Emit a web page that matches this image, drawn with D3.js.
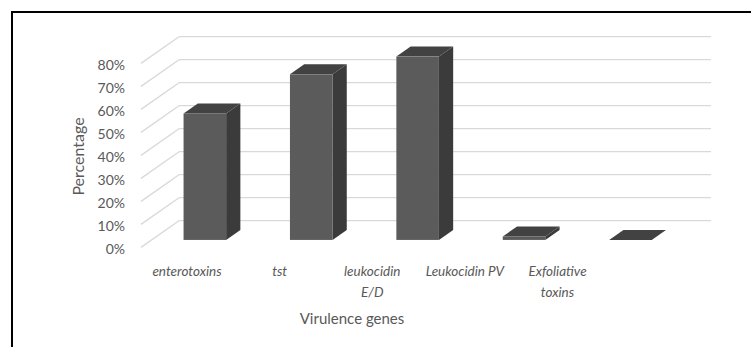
<!DOCTYPE html>
<html>
<head>
<meta charset="utf-8">
<script src="https://cdn.jsdelivr.net/npm/d3@7"></script>
<style>
  html, body { margin: 0; padding: 0; background: #fff; }
  svg { display: block; }
  text { font-family: Lato, "Open Sans", sans-serif; fill: #595959; }
</style>
</head>
<body>
<svg id="chart" width="751" height="347"></svg>
<script>
// Virulence gene prevalence
const categories = ["enterotoxins", "tst", "leukocidin E/D", "Leukocidin PV", "Exfoliative toxins"];
const labelLines = [["enterotoxins"], ["tst"], ["leukocidin", "E/D"], ["Leukocidin PV"], ["Exfoliative", "toxins"]];
const percentages = [55, 72, 79.7, 1.5, 0];
const tickValues = [0, 10, 20, 30, 40, 50, 60, 70, 80];
const tickLabels = ["0%", "10%", "20%", "30%", "40%", "50%", "60%", "70%", "80%"];

const svg = d3.select("#chart");
const W = 751, H = 347;

// frame
svg.append("rect")
  .attr("x", 12).attr("y", 12)
  .attr("width", W + 20).attr("height", H + 20)
  .attr("fill", "none").attr("stroke", "#000").attr("stroke-width", 2);

// 3D geometry: front plane and back wall offset
const x0 = 141;             // front-left corner of the plot
const plotW = 532;          // width along the category axis
const depthX = 38, depthY = -26.7;

const yBack = d3.scaleLinear().domain([0, 80]).range([220.7, 36.7]);
const yFront = v => yBack(v) - depthY;

const x = d3.scaleBand().domain(categories)
  .range([x0, x0 + plotW]).paddingInner(0.6).paddingOuter(0.3);

const grid = svg.append("g").attr("stroke", "#d9d9d9").attr("stroke-width", 1.3).attr("fill", "none");
// back wall gridlines
grid.selectAll("line.back").data(tickValues).join("line")
  .attr("class", "back")
  .attr("x1", x0 + depthX).attr("x2", x0 + depthX + plotW)
  .attr("y1", d => yBack(d)).attr("y2", d => yBack(d));
// side wall gridlines
grid.selectAll("line.side").data(tickValues).join("line")
  .attr("class", "side")
  .attr("x1", x0).attr("x2", x0 + depthX)
  .attr("y1", d => yFront(d)).attr("y2", d => yBack(d));

// value axis labels
svg.append("g").selectAll("text").data(tickValues).join("text")
  .attr("x", 125).attr("y", d => yFront(d) + 7)
  .attr("text-anchor", "end")
  .attr("font-size", 14)
  .text((d, i) => tickLabels[i]);

// bars: front, top and side faces
const d0 = 0.28, d1 = 0.655;
const fdx = depthX * d0, fdy = depthY * d0;
const bdx = depthX * (d1 - d0), bdy = depthY * (d1 - d0);

const bars = svg.append("g").selectAll("g").data(categories).join("g");
bars.each(function (c, i) {
  const g = d3.select(this);
  const v = percentages[i];
  const xl = x(c) + fdx, xr = xl + x.bandwidth();
  const yt = yFront(v) + fdy, yb = yFront(0) + fdy;
  g.append("path")
    .attr("d", `M${xr},${yt}L${xr + bdx},${yt + bdy}L${xr + bdx},${yb + bdy}L${xr},${yb}Z`)
    .attr("fill", "#3b3b3b");
  g.append("path")
    .attr("d", `M${xl},${yt}L${xr},${yt}L${xr + bdx},${yt + bdy}L${xl + bdx},${yt + bdy}Z`)
    .attr("fill", "#424242");
  if (yb - yt > 0.1) {
    g.append("rect")
      .attr("x", xl).attr("y", yt)
      .attr("width", x.bandwidth()).attr("height", yb - yt)
      .attr("fill", "#5b5b5b");
  }
});

// category labels
const xl = d3.scalePoint().domain(categories).range([187, 557.5]);
svg.append("g").selectAll("text").data(categories).join("text")
  .attr("x", d => xl(d)).attr("y", 275.5)
  .attr("text-anchor", "middle")
  .attr("font-size", 13.5)
  .attr("font-style", "italic")
  .each(function (d, i) {
    d3.select(this).selectAll("tspan").data(labelLines[i]).join("tspan")
      .attr("x", xl(d)).attr("dy", (t, j) => j === 0 ? 0 : 21)
      .text(t => t);
  });

// axis titles
svg.append("text")
  .attr("x", 352).attr("y", 324)
  .attr("text-anchor", "middle")
  .attr("font-size", 15)
  .text("Virulence genes");

svg.append("text")
  .attr("transform", "translate(84,156.5) rotate(-90)")
  .attr("text-anchor", "middle")
  .attr("font-size", 16)
  .text("Percentage");
</script>
</body>
</html>
